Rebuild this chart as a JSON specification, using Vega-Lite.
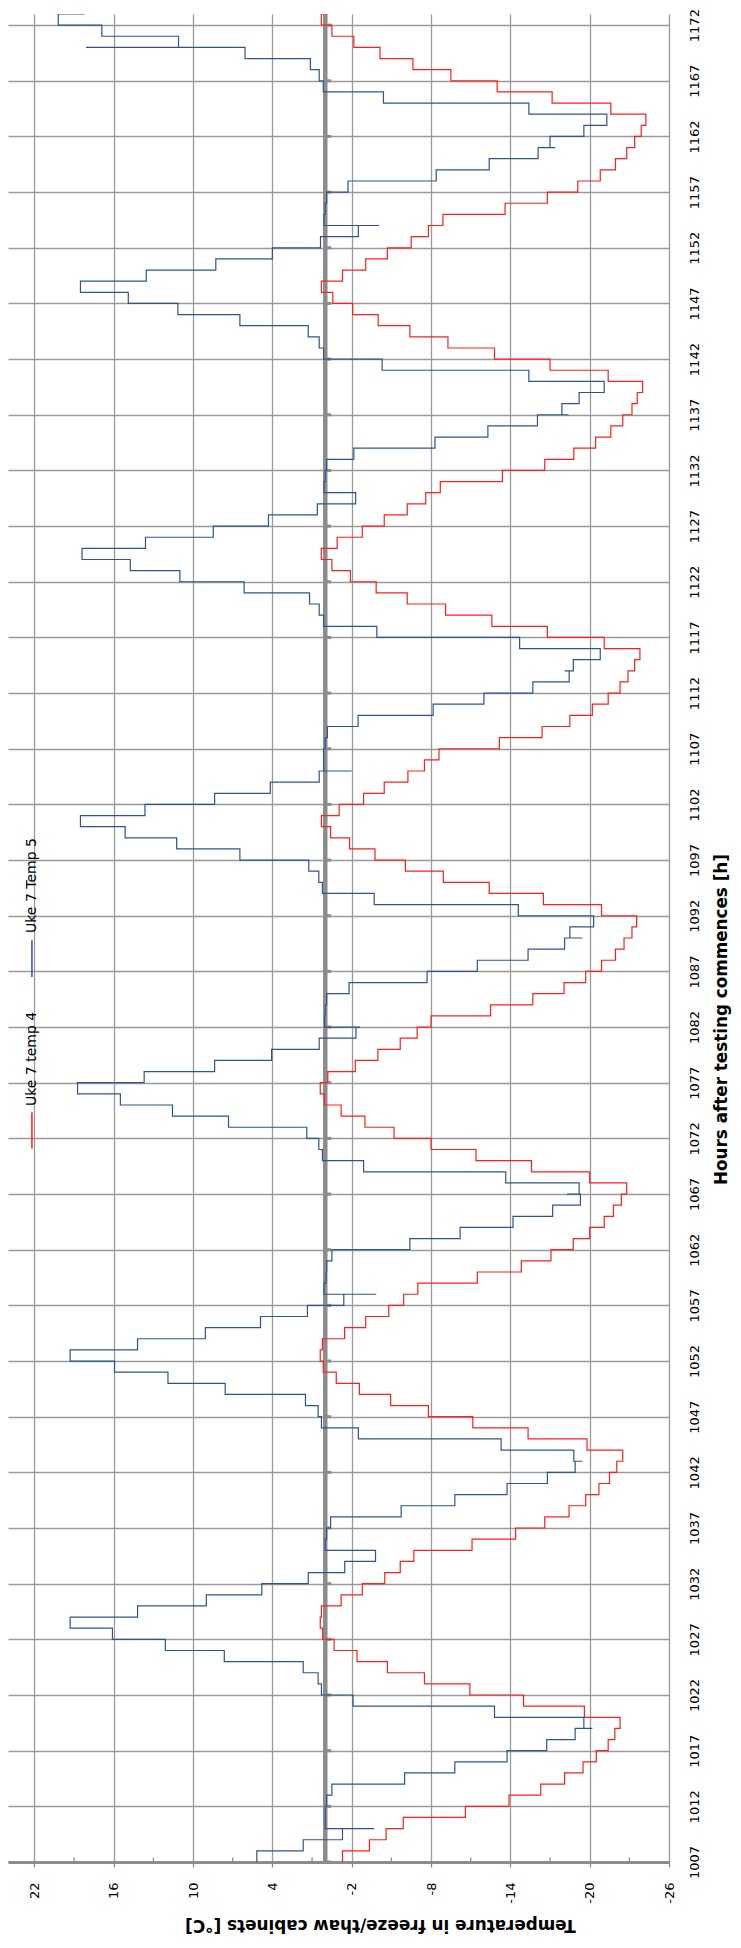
{
  "$schema": "https://vega.github.io/schema/vega-lite/v6.json",
  "width": 661,
  "height": 1848,
  "autosize": {"type": "none"},
  "padding": {"left": 8, "top": 14, "right": 72, "bottom": 86},
  "config": {"view": {"stroke": null}},
  "datasets": {
    "temps": [
      {"h":1007,"t":-1.3,"s":"Uke 7 temp 4"},{"h":1008,"t":-3.34,"s":"Uke 7 temp 4"},{"h":1009,"t":-4.6,"s":"Uke 7 temp 4"},{"h":1010,"t":-5.9,"s":"Uke 7 temp 4"},{"h":1011,"t":-10.6,"s":"Uke 7 temp 4"},{"h":1012,"t":-13.9,"s":"Uke 7 temp 4"},{"h":1013,"t":-16.3,"s":"Uke 7 temp 4"},{"h":1014,"t":-18.1,"s":"Uke 7 temp 4"},{"h":1015,"t":-19.5,"s":"Uke 7 temp 4"},{"h":1016,"t":-20.5,"s":"Uke 7 temp 4"},{"h":1017,"t":-21.4,"s":"Uke 7 temp 4"},{"h":1018,"t":-21.9,"s":"Uke 7 temp 4"},{"h":1019,"t":-22.3,"s":"Uke 7 temp 4"},{"h":1020,"t":-19.6,"s":"Uke 7 temp 4"},{"h":1021,"t":-15.0,"s":"Uke 7 temp 4"},{"h":1022,"t":-10.94,"s":"Uke 7 temp 4"},{"h":1023,"t":-7.5,"s":"Uke 7 temp 4"},{"h":1024,"t":-4.7,"s":"Uke 7 temp 4"},{"h":1025,"t":-2.4,"s":"Uke 7 temp 4"},{"h":1026,"t":-0.67,"s":"Uke 7 temp 4"},{"h":1027,"t":0.2,"s":"Uke 7 temp 4"},{"h":1028,"t":0.38,"s":"Uke 7 temp 4"},{"h":1029,"t":0.29,"s":"Uke 7 temp 4"},{"h":1030,"t":-1.2,"s":"Uke 7 temp 4"},{"h":1031,"t":-2.8,"s":"Uke 7 temp 4"},{"h":1032,"t":-4.5,"s":"Uke 7 temp 4"},{"h":1033,"t":-5.67,"s":"Uke 7 temp 4"},{"h":1034,"t":-6.7,"s":"Uke 7 temp 4"},{"h":1035,"t":-11.1,"s":"Uke 7 temp 4"},{"h":1036,"t":-14.4,"s":"Uke 7 temp 4"},{"h":1037,"t":-16.6,"s":"Uke 7 temp 4"},{"h":1038,"t":-18.44,"s":"Uke 7 temp 4"},{"h":1039,"t":-19.7,"s":"Uke 7 temp 4"},{"h":1040,"t":-20.7,"s":"Uke 7 temp 4"},{"h":1041,"t":-21.5,"s":"Uke 7 temp 4"},{"h":1042,"t":-22.05,"s":"Uke 7 temp 4"},{"h":1043,"t":-22.5,"s":"Uke 7 temp 4"},{"h":1044,"t":-19.8,"s":"Uke 7 temp 4"},{"h":1045,"t":-15.34,"s":"Uke 7 temp 4"},{"h":1046,"t":-11.16,"s":"Uke 7 temp 4"},{"h":1047,"t":-7.8,"s":"Uke 7 temp 4"},{"h":1048,"t":-4.94,"s":"Uke 7 temp 4"},{"h":1049,"t":-2.58,"s":"Uke 7 temp 4"},{"h":1050,"t":-0.83,"s":"Uke 7 temp 4"},{"h":1051,"t":0.15,"s":"Uke 7 temp 4"},{"h":1052,"t":0.38,"s":"Uke 7 temp 4"},{"h":1053,"t":0.22,"s":"Uke 7 temp 4"},{"h":1054,"t":-1.46,"s":"Uke 7 temp 4"},{"h":1055,"t":-3.06,"s":"Uke 7 temp 4"},{"h":1056,"t":-4.8,"s":"Uke 7 temp 4"},{"h":1057,"t":-5.93,"s":"Uke 7 temp 4"},{"h":1058,"t":-7.0,"s":"Uke 7 temp 4"},{"h":1059,"t":-11.5,"s":"Uke 7 temp 4"},{"h":1060,"t":-14.83,"s":"Uke 7 temp 4"},{"h":1061,"t":-17.07,"s":"Uke 7 temp 4"},{"h":1062,"t":-18.76,"s":"Uke 7 temp 4"},{"h":1063,"t":-20.0,"s":"Uke 7 temp 4"},{"h":1064,"t":-21.1,"s":"Uke 7 temp 4"},{"h":1065,"t":-21.8,"s":"Uke 7 temp 4"},{"h":1066,"t":-22.4,"s":"Uke 7 temp 4"},{"h":1067,"t":-22.8,"s":"Uke 7 temp 4"},{"h":1068,"t":-20.0,"s":"Uke 7 temp 4"},{"h":1069,"t":-15.6,"s":"Uke 7 temp 4"},{"h":1070,"t":-11.4,"s":"Uke 7 temp 4"},{"h":1071,"t":-8.0,"s":"Uke 7 temp 4"},{"h":1072,"t":-5.2,"s":"Uke 7 temp 4"},{"h":1073,"t":-3.0,"s":"Uke 7 temp 4"},{"h":1074,"t":-1.2,"s":"Uke 7 temp 4"},{"h":1075,"t":0.06,"s":"Uke 7 temp 4"},{"h":1076,"t":0.38,"s":"Uke 7 temp 4"},{"h":1077,"t":-0.19,"s":"Uke 7 temp 4"},{"h":1078,"t":-2.27,"s":"Uke 7 temp 4"},{"h":1079,"t":-3.98,"s":"Uke 7 temp 4"},{"h":1080,"t":-5.67,"s":"Uke 7 temp 4"},{"h":1081,"t":-6.95,"s":"Uke 7 temp 4"},{"h":1082,"t":-8.0,"s":"Uke 7 temp 4"},{"h":1083,"t":-12.5,"s":"Uke 7 temp 4"},{"h":1084,"t":-15.7,"s":"Uke 7 temp 4"},{"h":1085,"t":-18.06,"s":"Uke 7 temp 4"},{"h":1086,"t":-19.7,"s":"Uke 7 temp 4"},{"h":1087,"t":-20.9,"s":"Uke 7 temp 4"},{"h":1088,"t":-21.95,"s":"Uke 7 temp 4"},{"h":1089,"t":-22.6,"s":"Uke 7 temp 4"},{"h":1090,"t":-23.2,"s":"Uke 7 temp 4"},{"h":1091,"t":-23.55,"s":"Uke 7 temp 4"},{"h":1092,"t":-20.9,"s":"Uke 7 temp 4"},{"h":1093,"t":-16.5,"s":"Uke 7 temp 4"},{"h":1094,"t":-12.4,"s":"Uke 7 temp 4"},{"h":1095,"t":-8.93,"s":"Uke 7 temp 4"},{"h":1096,"t":-6.06,"s":"Uke 7 temp 4"},{"h":1097,"t":-3.76,"s":"Uke 7 temp 4"},{"h":1098,"t":-1.84,"s":"Uke 7 temp 4"},{"h":1099,"t":-0.4,"s":"Uke 7 temp 4"},{"h":1100,"t":0.29,"s":"Uke 7 temp 4"},{"h":1101,"t":-1.05,"s":"Uke 7 temp 4"},{"h":1102,"t":-2.9,"s":"Uke 7 temp 4"},{"h":1103,"t":-4.46,"s":"Uke 7 temp 4"},{"h":1104,"t":-6.25,"s":"Uke 7 temp 4"},{"h":1105,"t":-7.5,"s":"Uke 7 temp 4"},{"h":1106,"t":-8.6,"s":"Uke 7 temp 4"},{"h":1107,"t":-13.17,"s":"Uke 7 temp 4"},{"h":1108,"t":-16.4,"s":"Uke 7 temp 4"},{"h":1109,"t":-18.5,"s":"Uke 7 temp 4"},{"h":1110,"t":-20.2,"s":"Uke 7 temp 4"},{"h":1111,"t":-21.4,"s":"Uke 7 temp 4"},{"h":1112,"t":-22.3,"s":"Uke 7 temp 4"},{"h":1113,"t":-22.9,"s":"Uke 7 temp 4"},{"h":1114,"t":-23.4,"s":"Uke 7 temp 4"},{"h":1115,"t":-23.8,"s":"Uke 7 temp 4"},{"h":1116,"t":-21.1,"s":"Uke 7 temp 4"},{"h":1117,"t":-16.8,"s":"Uke 7 temp 4"},{"h":1118,"t":-12.6,"s":"Uke 7 temp 4"},{"h":1119,"t":-9.1,"s":"Uke 7 temp 4"},{"h":1120,"t":-6.2,"s":"Uke 7 temp 4"},{"h":1121,"t":-3.85,"s":"Uke 7 temp 4"},{"h":1122,"t":-1.9,"s":"Uke 7 temp 4"},{"h":1123,"t":-0.5,"s":"Uke 7 temp 4"},{"h":1124,"t":0.3,"s":"Uke 7 temp 4"},{"h":1125,"t":-0.9,"s":"Uke 7 temp 4"},{"h":1126,"t":-2.8,"s":"Uke 7 temp 4"},{"h":1127,"t":-4.46,"s":"Uke 7 temp 4"},{"h":1128,"t":-6.2,"s":"Uke 7 temp 4"},{"h":1129,"t":-7.6,"s":"Uke 7 temp 4"},{"h":1130,"t":-8.7,"s":"Uke 7 temp 4"},{"h":1131,"t":-13.4,"s":"Uke 7 temp 4"},{"h":1132,"t":-16.6,"s":"Uke 7 temp 4"},{"h":1133,"t":-18.8,"s":"Uke 7 temp 4"},{"h":1134,"t":-20.45,"s":"Uke 7 temp 4"},{"h":1135,"t":-21.6,"s":"Uke 7 temp 4"},{"h":1136,"t":-22.5,"s":"Uke 7 temp 4"},{"h":1137,"t":-23.2,"s":"Uke 7 temp 4"},{"h":1138,"t":-23.6,"s":"Uke 7 temp 4"},{"h":1139,"t":-24.0,"s":"Uke 7 temp 4"},{"h":1140,"t":-21.4,"s":"Uke 7 temp 4"},{"h":1141,"t":-17.0,"s":"Uke 7 temp 4"},{"h":1142,"t":-12.8,"s":"Uke 7 temp 4"},{"h":1143,"t":-9.28,"s":"Uke 7 temp 4"},{"h":1144,"t":-6.4,"s":"Uke 7 temp 4"},{"h":1145,"t":-4.0,"s":"Uke 7 temp 4"},{"h":1146,"t":-2.07,"s":"Uke 7 temp 4"},{"h":1147,"t":-0.57,"s":"Uke 7 temp 4"},{"h":1148,"t":0.29,"s":"Uke 7 temp 4"},{"h":1149,"t":-1.3,"s":"Uke 7 temp 4"},{"h":1150,"t":-3.06,"s":"Uke 7 temp 4"},{"h":1151,"t":-4.7,"s":"Uke 7 temp 4"},{"h":1152,"t":-6.5,"s":"Uke 7 temp 4"},{"h":1153,"t":-7.8,"s":"Uke 7 temp 4"},{"h":1154,"t":-8.9,"s":"Uke 7 temp 4"},{"h":1155,"t":-13.6,"s":"Uke 7 temp 4"},{"h":1156,"t":-16.8,"s":"Uke 7 temp 4"},{"h":1157,"t":-19.1,"s":"Uke 7 temp 4"},{"h":1158,"t":-20.8,"s":"Uke 7 temp 4"},{"h":1159,"t":-21.95,"s":"Uke 7 temp 4"},{"h":1160,"t":-22.8,"s":"Uke 7 temp 4"},{"h":1161,"t":-23.4,"s":"Uke 7 temp 4"},{"h":1162,"t":-23.9,"s":"Uke 7 temp 4"},{"h":1163,"t":-24.25,"s":"Uke 7 temp 4"},{"h":1164,"t":-21.6,"s":"Uke 7 temp 4"},{"h":1165,"t":-17.16,"s":"Uke 7 temp 4"},{"h":1166,"t":-13.0,"s":"Uke 7 temp 4"},{"h":1167,"t":-9.5,"s":"Uke 7 temp 4"},{"h":1168,"t":-6.63,"s":"Uke 7 temp 4"},{"h":1169,"t":-4.14,"s":"Uke 7 temp 4"},{"h":1170,"t":-2.16,"s":"Uke 7 temp 4"},{"h":1171,"t":-0.5,"s":"Uke 7 temp 4"},{"h":1172,"t":0.3,"s":"Uke 7 temp 4"},{"h":1173,"t":0.0,"s":"Uke 7 temp 4"},
      {"h":1007,"t":5.18,"s":"Uke 7 Temp 5"},{"h":1008,"t":1.67,"s":"Uke 7 Temp 5"},{"h":1009,"t":-1.3,"s":"Uke 7 Temp 5"},{"h":1010,"t":-3.7,"s":"Uke 7 Temp 5"},{"h":1010,"t":0.0,"s":"Uke 7 Temp 5"},{"h":1011,"t":0.0,"s":"Uke 7 Temp 5"},{"h":1012,"t":-0.1,"s":"Uke 7 Temp 5"},{"h":1013,"t":-0.5,"s":"Uke 7 Temp 5"},{"h":1014,"t":-6.0,"s":"Uke 7 Temp 5"},{"h":1015,"t":-9.8,"s":"Uke 7 Temp 5"},{"h":1016,"t":-13.75,"s":"Uke 7 Temp 5"},{"h":1017,"t":-16.75,"s":"Uke 7 Temp 5"},{"h":1018,"t":-18.9,"s":"Uke 7 Temp 5"},{"h":1019,"t":-20.2,"s":"Uke 7 Temp 5"},{"h":1019,"t":-19.56,"s":"Uke 7 Temp 5"},{"h":1020,"t":-12.8,"s":"Uke 7 Temp 5"},{"h":1021,"t":-2.1,"s":"Uke 7 Temp 5"},{"h":1022,"t":0.29,"s":"Uke 7 Temp 5"},{"h":1023,"t":0.54,"s":"Uke 7 Temp 5"},{"h":1024,"t":1.67,"s":"Uke 7 Temp 5"},{"h":1025,"t":7.64,"s":"Uke 7 Temp 5"},{"h":1026,"t":12.1,"s":"Uke 7 Temp 5"},{"h":1027,"t":16.1,"s":"Uke 7 Temp 5"},{"h":1028,"t":19.3,"s":"Uke 7 Temp 5"},{"h":1029,"t":14.2,"s":"Uke 7 Temp 5"},{"h":1030,"t":9.0,"s":"Uke 7 Temp 5"},{"h":1031,"t":4.8,"s":"Uke 7 Temp 5"},{"h":1032,"t":1.29,"s":"Uke 7 Temp 5"},{"h":1033,"t":-1.47,"s":"Uke 7 Temp 5"},{"h":1034,"t":-3.8,"s":"Uke 7 Temp 5"},{"h":1035,"t":0.0,"s":"Uke 7 Temp 5"},{"h":1036,"t":-0.1,"s":"Uke 7 Temp 5"},{"h":1037,"t":-0.4,"s":"Uke 7 Temp 5"},{"h":1038,"t":-5.74,"s":"Uke 7 Temp 5"},{"h":1039,"t":-9.8,"s":"Uke 7 Temp 5"},{"h":1040,"t":-13.75,"s":"Uke 7 Temp 5"},{"h":1041,"t":-16.8,"s":"Uke 7 Temp 5"},{"h":1042,"t":-18.9,"s":"Uke 7 Temp 5"},{"h":1043,"t":-19.45,"s":"Uke 7 Temp 5"},{"h":1043,"t":-18.8,"s":"Uke 7 Temp 5"},{"h":1044,"t":-13.3,"s":"Uke 7 Temp 5"},{"h":1045,"t":-2.5,"s":"Uke 7 Temp 5"},{"h":1046,"t":0.29,"s":"Uke 7 Temp 5"},{"h":1047,"t":0.54,"s":"Uke 7 Temp 5"},{"h":1048,"t":1.5,"s":"Uke 7 Temp 5"},{"h":1049,"t":7.57,"s":"Uke 7 Temp 5"},{"h":1050,"t":11.9,"s":"Uke 7 Temp 5"},{"h":1051,"t":15.94,"s":"Uke 7 Temp 5"},{"h":1052,"t":19.3,"s":"Uke 7 Temp 5"},{"h":1053,"t":14.2,"s":"Uke 7 Temp 5"},{"h":1054,"t":9.07,"s":"Uke 7 Temp 5"},{"h":1055,"t":4.9,"s":"Uke 7 Temp 5"},{"h":1056,"t":1.35,"s":"Uke 7 Temp 5"},{"h":1057,"t":-1.4,"s":"Uke 7 Temp 5"},{"h":1058,"t":-3.85,"s":"Uke 7 Temp 5"},{"h":1058,"t":0.1,"s":"Uke 7 Temp 5"},{"h":1059,"t":-0.05,"s":"Uke 7 Temp 5"},{"h":1060,"t":-0.1,"s":"Uke 7 Temp 5"},{"h":1061,"t":-0.5,"s":"Uke 7 Temp 5"},{"h":1062,"t":-6.4,"s":"Uke 7 Temp 5"},{"h":1063,"t":-10.2,"s":"Uke 7 Temp 5"},{"h":1064,"t":-14.2,"s":"Uke 7 Temp 5"},{"h":1065,"t":-17.2,"s":"Uke 7 Temp 5"},{"h":1066,"t":-19.3,"s":"Uke 7 Temp 5"},{"h":1067,"t":-18.3,"s":"Uke 7 Temp 5"},{"h":1067,"t":-19.2,"s":"Uke 7 Temp 5"},{"h":1068,"t":-13.65,"s":"Uke 7 Temp 5"},{"h":1069,"t":-2.9,"s":"Uke 7 Temp 5"},{"h":1070,"t":0.22,"s":"Uke 7 Temp 5"},{"h":1071,"t":0.49,"s":"Uke 7 Temp 5"},{"h":1072,"t":1.4,"s":"Uke 7 Temp 5"},{"h":1073,"t":7.32,"s":"Uke 7 Temp 5"},{"h":1074,"t":11.56,"s":"Uke 7 Temp 5"},{"h":1075,"t":15.5,"s":"Uke 7 Temp 5"},{"h":1076,"t":18.74,"s":"Uke 7 Temp 5"},{"h":1077,"t":13.7,"s":"Uke 7 Temp 5"},{"h":1078,"t":8.37,"s":"Uke 7 Temp 5"},{"h":1079,"t":4.06,"s":"Uke 7 Temp 5"},{"h":1080,"t":0.46,"s":"Uke 7 Temp 5"},{"h":1081,"t":-2.32,"s":"Uke 7 Temp 5"},{"h":1082,"t":-2.64,"s":"Uke 7 Temp 5"},{"h":1082,"t":0.05,"s":"Uke 7 Temp 5"},{"h":1083,"t":0.0,"s":"Uke 7 Temp 5"},{"h":1084,"t":-0.1,"s":"Uke 7 Temp 5"},{"h":1085,"t":-1.8,"s":"Uke 7 Temp 5"},{"h":1086,"t":-7.7,"s":"Uke 7 Temp 5"},{"h":1087,"t":-11.5,"s":"Uke 7 Temp 5"},{"h":1088,"t":-15.34,"s":"Uke 7 Temp 5"},{"h":1089,"t":-18.1,"s":"Uke 7 Temp 5"},{"h":1090,"t":-19.45,"s":"Uke 7 Temp 5"},{"h":1090,"t":-18.5,"s":"Uke 7 Temp 5"},{"h":1091,"t":-20.3,"s":"Uke 7 Temp 5"},{"h":1092,"t":-14.6,"s":"Uke 7 Temp 5"},{"h":1093,"t":-3.7,"s":"Uke 7 Temp 5"},{"h":1094,"t":0.22,"s":"Uke 7 Temp 5"},{"h":1095,"t":0.49,"s":"Uke 7 Temp 5"},{"h":1096,"t":1.25,"s":"Uke 7 Temp 5"},{"h":1097,"t":6.46,"s":"Uke 7 Temp 5"},{"h":1098,"t":11.24,"s":"Uke 7 Temp 5"},{"h":1099,"t":15.14,"s":"Uke 7 Temp 5"},{"h":1100,"t":18.52,"s":"Uke 7 Temp 5"},{"h":1101,"t":13.64,"s":"Uke 7 Temp 5"},{"h":1102,"t":8.37,"s":"Uke 7 Temp 5"},{"h":1103,"t":4.16,"s":"Uke 7 Temp 5"},{"h":1104,"t":0.46,"s":"Uke 7 Temp 5"},{"h":1105,"t":-2.0,"s":"Uke 7 Temp 5"},{"h":1105,"t":0.13,"s":"Uke 7 Temp 5"},{"h":1106,"t":0.13,"s":"Uke 7 Temp 5"},{"h":1107,"t":0.0,"s":"Uke 7 Temp 5"},{"h":1108,"t":-0.16,"s":"Uke 7 Temp 5"},{"h":1109,"t":-2.48,"s":"Uke 7 Temp 5"},{"h":1110,"t":-8.16,"s":"Uke 7 Temp 5"},{"h":1111,"t":-12.0,"s":"Uke 7 Temp 5"},{"h":1112,"t":-15.7,"s":"Uke 7 Temp 5"},{"h":1113,"t":-18.45,"s":"Uke 7 Temp 5"},{"h":1114,"t":-18.1,"s":"Uke 7 Temp 5"},{"h":1114,"t":-18.76,"s":"Uke 7 Temp 5"},{"h":1115,"t":-20.8,"s":"Uke 7 Temp 5"},{"h":1116,"t":-14.7,"s":"Uke 7 Temp 5"},{"h":1117,"t":-3.9,"s":"Uke 7 Temp 5"},{"h":1118,"t":0.13,"s":"Uke 7 Temp 5"},{"h":1119,"t":0.46,"s":"Uke 7 Temp 5"},{"h":1120,"t":1.19,"s":"Uke 7 Temp 5"},{"h":1121,"t":6.14,"s":"Uke 7 Temp 5"},{"h":1122,"t":11.0,"s":"Uke 7 Temp 5"},{"h":1123,"t":14.75,"s":"Uke 7 Temp 5"},{"h":1124,"t":18.4,"s":"Uke 7 Temp 5"},{"h":1125,"t":13.6,"s":"Uke 7 Temp 5"},{"h":1126,"t":8.47,"s":"Uke 7 Temp 5"},{"h":1127,"t":4.3,"s":"Uke 7 Temp 5"},{"h":1128,"t":0.6,"s":"Uke 7 Temp 5"},{"h":1129,"t":-2.3,"s":"Uke 7 Temp 5"},{"h":1130,"t":0.1,"s":"Uke 7 Temp 5"},{"h":1131,"t":0.0,"s":"Uke 7 Temp 5"},{"h":1132,"t":-0.1,"s":"Uke 7 Temp 5"},{"h":1133,"t":-2.16,"s":"Uke 7 Temp 5"},{"h":1134,"t":-8.3,"s":"Uke 7 Temp 5"},{"h":1135,"t":-12.3,"s":"Uke 7 Temp 5"},{"h":1136,"t":-16.05,"s":"Uke 7 Temp 5"},{"h":1137,"t":-18.4,"s":"Uke 7 Temp 5"},{"h":1137,"t":-17.9,"s":"Uke 7 Temp 5"},{"h":1138,"t":-19.2,"s":"Uke 7 Temp 5"},{"h":1139,"t":-21.1,"s":"Uke 7 Temp 5"},{"h":1140,"t":-15.4,"s":"Uke 7 Temp 5"},{"h":1141,"t":-4.3,"s":"Uke 7 Temp 5"},{"h":1142,"t":0.13,"s":"Uke 7 Temp 5"},{"h":1143,"t":0.46,"s":"Uke 7 Temp 5"},{"h":1144,"t":1.29,"s":"Uke 7 Temp 5"},{"h":1145,"t":6.46,"s":"Uke 7 Temp 5"},{"h":1146,"t":11.15,"s":"Uke 7 Temp 5"},{"h":1147,"t":14.9,"s":"Uke 7 Temp 5"},{"h":1148,"t":18.52,"s":"Uke 7 Temp 5"},{"h":1149,"t":13.54,"s":"Uke 7 Temp 5"},{"h":1150,"t":8.28,"s":"Uke 7 Temp 5"},{"h":1151,"t":4.0,"s":"Uke 7 Temp 5"},{"h":1152,"t":0.36,"s":"Uke 7 Temp 5"},{"h":1153,"t":-2.5,"s":"Uke 7 Temp 5"},{"h":1154,"t":-4.08,"s":"Uke 7 Temp 5"},{"h":1154,"t":0.1,"s":"Uke 7 Temp 5"},{"h":1155,"t":0.0,"s":"Uke 7 Temp 5"},{"h":1156,"t":-0.1,"s":"Uke 7 Temp 5"},{"h":1157,"t":-1.72,"s":"Uke 7 Temp 5"},{"h":1158,"t":-8.39,"s":"Uke 7 Temp 5"},{"h":1159,"t":-12.4,"s":"Uke 7 Temp 5"},{"h":1160,"t":-16.1,"s":"Uke 7 Temp 5"},{"h":1161,"t":-17.4,"s":"Uke 7 Temp 5"},{"h":1161,"t":-17.0,"s":"Uke 7 Temp 5"},{"h":1162,"t":-19.56,"s":"Uke 7 Temp 5"},{"h":1163,"t":-21.3,"s":"Uke 7 Temp 5"},{"h":1164,"t":-15.4,"s":"Uke 7 Temp 5"},{"h":1165,"t":-4.4,"s":"Uke 7 Temp 5"},{"h":1166,"t":0.15,"s":"Uke 7 Temp 5"},{"h":1167,"t":0.46,"s":"Uke 7 Temp 5"},{"h":1168,"t":1.13,"s":"Uke 7 Temp 5"},{"h":1169,"t":6.07,"s":"Uke 7 Temp 5"},{"h":1170,"t":18.1,"s":"Uke 7 Temp 5"},{"h":1170,"t":11.1,"s":"Uke 7 Temp 5"},{"h":1171,"t":16.9,"s":"Uke 7 Temp 5"},{"h":1172,"t":20.2,"s":"Uke 7 Temp 5"},{"h":1173,"t":18.2,"s":"Uke 7 Temp 5"}
    ],
    "hourticks": [{"h":1007},{"h":1012},{"h":1017},{"h":1022},{"h":1027},{"h":1032},{"h":1037},{"h":1042},{"h":1047},{"h":1052},{"h":1057},{"h":1062},{"h":1067},{"h":1072},{"h":1077},{"h":1082},{"h":1087},{"h":1092},{"h":1097},{"h":1102},{"h":1107},{"h":1112},{"h":1117},{"h":1122},{"h":1127},{"h":1132},{"h":1137},{"h":1142},{"h":1147},{"h":1152},{"h":1157},{"h":1162},{"h":1167},{"h":1172}],
    "minorticks": [{"t":19},{"t":13},{"t":7},{"t":1},{"t":-5},{"t":-11},{"t":-17},{"t":-23}],
    "legend": [{"s":"Uke 7 temp 4"},{"s":"Uke 7 Temp 5"}],
    "zero": [{"t":0}]
  },
  "layer": [
    {
      "data": {"name": "zero"},
      "mark": {"type": "rule", "color": "#8c8c8c", "strokeWidth": 4.5},
      "encoding": {
        "x": {"field": "t", "type": "quantitative",
              "scale": {"domain": [-26, 24], "reverse": true, "nice": false, "zero": false},
              "axis": {"values": [-26,-20,-14,-8,-2,4,10,16,22], "labelExpr": "datum.value + ''",
                       "labelAngle": 270, "labelAlign": "right", "labelBaseline": "middle", "labelPadding": 15,
                       "labelFont": "DejaVu Sans", "labelFontSize": 13, "labelColor": "#000000",
                       "tickSize": 5, "tickColor": "#8c8c8c", "tickWidth": 1.3,
                       "domainColor": "#8c8c8c", "domainWidth": 3,
                       "grid": true, "gridColor": "#9a9a9a", "gridWidth": 1.3,
                       "title": "Temperature in freeze/thaw cabinets [°C]", "titleAngle": 180,
                       "titleFont": "DejaVu Sans", "titleFontWeight": "bold", "titleFontSize": 16.8, "titleColor": "#000000",
                       "titleX": 372, "titleY": 62, "titleAlign": "center", "titleBaseline": "middle"}}
      }
    },
    {
      "data": {"name": "hourticks"},
      "mark": {"type": "rule", "color": "#8c8c8c", "strokeWidth": 3},
      "encoding": {
        "x": {"datum": 0, "type": "quantitative"},
        "x2": {"datum": -0.45},
        "y": {"field": "h", "type": "quantitative",
              "scale": {"domain": [1007, 1173], "nice": false, "zero": false},
              "axis": {"orient": "right", "values": [1007,1012,1017,1022,1027,1032,1037,1042,1047,1052,1057,1062,1067,1072,1077,1082,1087,1092,1097,1102,1107,1112,1117,1122,1127,1132,1137,1142,1147,1152,1157,1162,1167,1172],
                       "labelExpr": "datum.value + ''",
                       "labelAngle": 270, "labelAlign": "center", "labelBaseline": "middle", "labelPadding": 25,
                       "labelFont": "DejaVu Sans", "labelFontSize": 13, "labelColor": "#000000",
                       "ticks": true, "tickSize": 0, "domain": false,
                       "grid": true, "gridColor": "#9a9a9a", "gridWidth": 1.3,
                       "title": "Hours after testing commences [h]", "titleAngle": 270,
                       "titleFont": "DejaVu Sans", "titleFontWeight": "bold", "titleFontSize": 16.8, "titleColor": "#000000",
                       "titleX": 52, "titleY": 1005, "titleAlign": "center", "titleBaseline": "middle"}}
      }
    },
    {
      "data": {"name": "minorticks"},
      "mark": {"type": "rule", "color": "#8c8c8c", "strokeWidth": 1.3},
      "encoding": {
        "x": {"field": "t", "type": "quantitative"},
        "y": {"datum": 1007, "type": "quantitative"},
        "y2": {"datum": 1007.4}
      }
    },
    {
      "data": {"name": "temps"},
      "mark": {"type": "line", "interpolate": "step-before", "strokeWidth": 1.2, "clip": true},
      "encoding": {
        "x": {"field": "t", "type": "quantitative"},
        "y": {"field": "h", "type": "quantitative"},
        "color": {"field": "s", "type": "nominal",
                  "scale": {"domain": ["Uke 7 temp 4", "Uke 7 Temp 5"], "range": ["#ff1f1f", "#2e5590"]},
                  "legend": null},
        "order": {"value": null}
      }
    },
    {
      "data": {"name": "legend"},
      "transform": [{"filter": "datum.s == 'Uke 7 temp 4'"}],
      "layer": [
        {
          "mark": {"type": "rule", "strokeWidth": 1.5},
          "encoding": {
            "x": {"datum": 22.19, "type": "quantitative"},
            "y": {"datum": 1071.1, "type": "quantitative"},
            "y2": {"datum": 1074.35},
            "color": {"field": "s", "type": "nominal", "legend": null}
          }
        },
        {
          "mark": {"type": "text", "angle": 270, "align": "left", "baseline": "middle", "font": "DejaVu Sans", "fontSize": 14, "color": "#000000"},
          "encoding": {
            "x": {"datum": 22.19, "type": "quantitative"},
            "y": {"datum": 1074.9, "type": "quantitative"},
            "text": {"field": "s"}
          }
        }
      ]
    },
    {
      "data": {"name": "legend"},
      "transform": [{"filter": "datum.s == 'Uke 7 Temp 5'"}],
      "layer": [
        {
          "mark": {"type": "rule", "strokeWidth": 1.5},
          "encoding": {
            "x": {"datum": 22.19, "type": "quantitative"},
            "y": {"datum": 1086.5, "type": "quantitative"},
            "y2": {"datum": 1089.8},
            "color": {"field": "s", "type": "nominal", "legend": null}
          }
        },
        {
          "mark": {"type": "text", "angle": 270, "align": "left", "baseline": "middle", "font": "DejaVu Sans", "fontSize": 14, "color": "#000000"},
          "encoding": {
            "x": {"datum": 22.19, "type": "quantitative"},
            "y": {"datum": 1090.45, "type": "quantitative"},
            "text": {"field": "s"}
          }
        }
      ]
    }
  ]
}
